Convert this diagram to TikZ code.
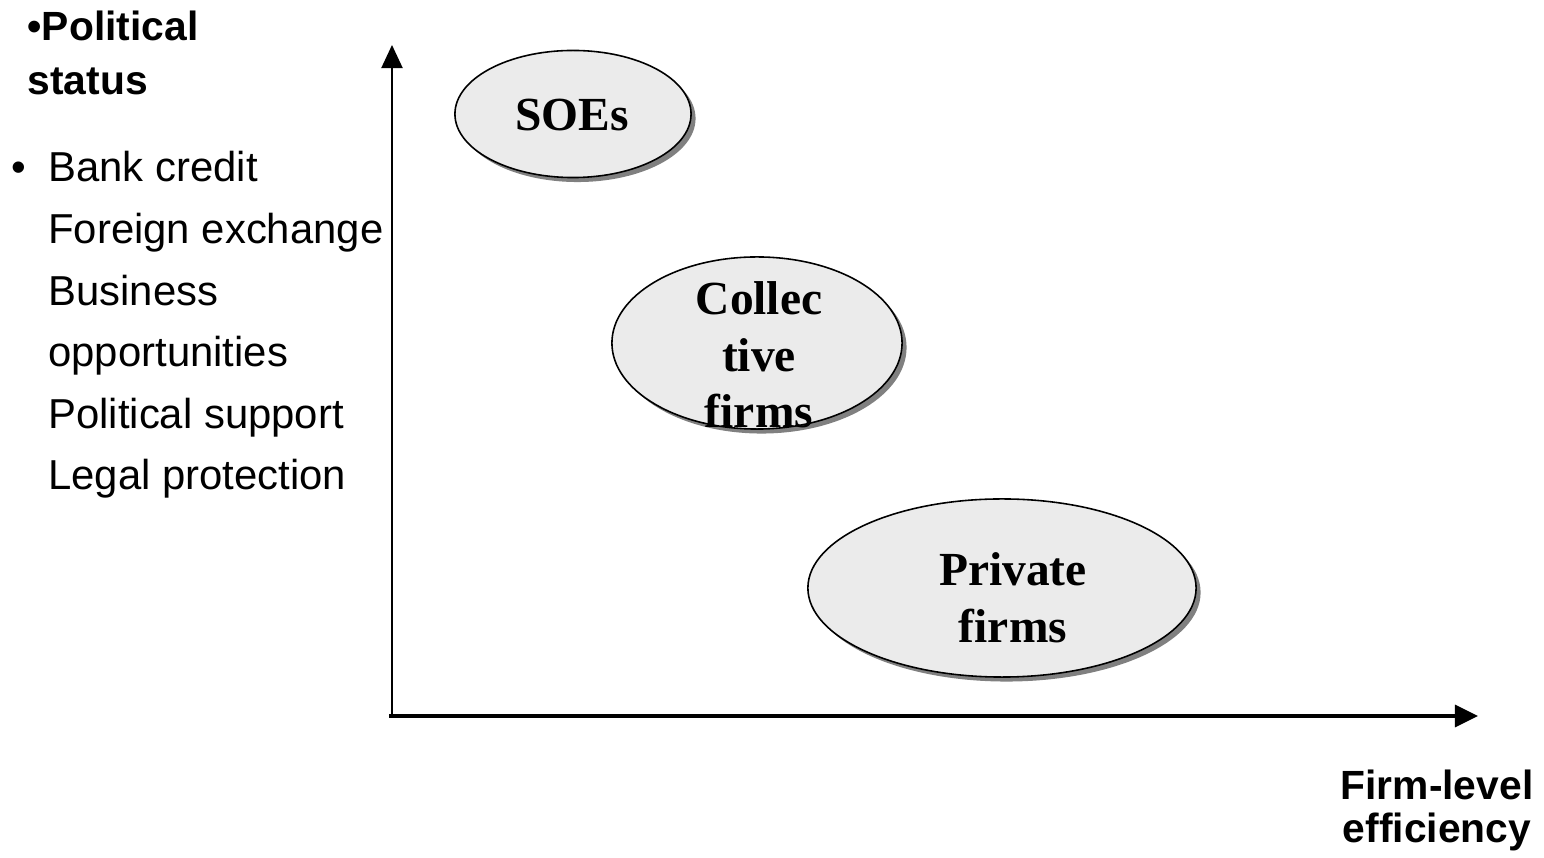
\documentclass[tikz,border=0pt]{standalone}
\usepackage{fontspec}
\setmainfont{Liberation Serif}
\setsansfont{Liberation Sans}
\usepackage{tikz}
\usetikzlibrary{shapes.geometric}
\usetikzlibrary{shadows}
\usetikzlibrary{arrows.meta}
\tikzstyle{firm}=[ellipse, draw, line width=0.45pt, fill=black!8, inner sep=0pt, outer sep=0pt,
  drop shadow={shadow xshift=0.045cm, shadow yshift=-0.045cm, fill=black!50, opacity=1}]
\tikzstyle{firmlabel}=[anchor=base, inner sep=0pt, font=\fontsize{13.5}{16}\selectfont\bfseries]
\tikzstyle{axislabel}=[anchor=base west, inner sep=0pt, font=\fontsize{11.6}{15.1}\selectfont\sffamily\bfseries]
\tikzstyle{perks}=[anchor=base west, inner sep=0pt, font=\fontsize{11.9}{17.5}\selectfont\sffamily]

\begin{document}
\begin{tikzpicture}[x=0.01cm, y=-0.01cm]
            \useasboundingbox (0,0) rectangle (1544,858);
            % axes
            \coordinate (origin) at (392,716);
            \coordinate (ytip) at (392,45);
            \coordinate (xtip) at (1478,716);
            \draw [line width=0.55pt, -{Triangle[length=0.23cm, width=0.21cm]}] (origin) -- (ytip);
            \draw [line width=0.95pt, -{Triangle[length=0.23cm, width=0.22cm]}] (389,716) -- (xtip);
            % firm types
            \node [firm, minimum width=2.36cm, minimum height=1.27cm] (soe) at (573,114) {};
            \node [firm, minimum width=2.90cm, minimum height=1.72cm] (coll) at (757,343) {};
            \node [firm, minimum width=3.88cm, minimum height=1.78cm] (priv) at (1002,588) {};
            \node [firmlabel] (soetext) at (572,131) {SOEs};
            \node [firmlabel] (colltext) at (759,315) {\begin{tabular}[t]{@{}c@{}}Collec\\tive\\firms\end{tabular}};
            \node [firmlabel] (privtext) at (1013,586) {\begin{tabular}[t]{@{}c@{}}Private\\firms\end{tabular}};
            % axis labels
            \node [axislabel] (status) at (27,41) {\begin{tabular}[t]{@{}l@{}}•Political\\status\end{tabular}};
            \node [perks] (list) at (11,182) {\begin{tabular}[t]{@{}l@{\hspace{0.22cm}}l@{}}
              • & Bank credit\\
                & Foreign exchange\\
                & Business\\
                & opportunities\\
                & Political support\\
                & Legal protection
            \end{tabular}};
            \node [axislabel, anchor=base, font=\fontsize{11.6}{12.2}\selectfont\sffamily\bfseries] (eff) at (1437,800)
              {\begin{tabular}[t]{@{}c@{}}Firm-level\\efficiency\end{tabular}};
        \end{tikzpicture}
\end{document}
